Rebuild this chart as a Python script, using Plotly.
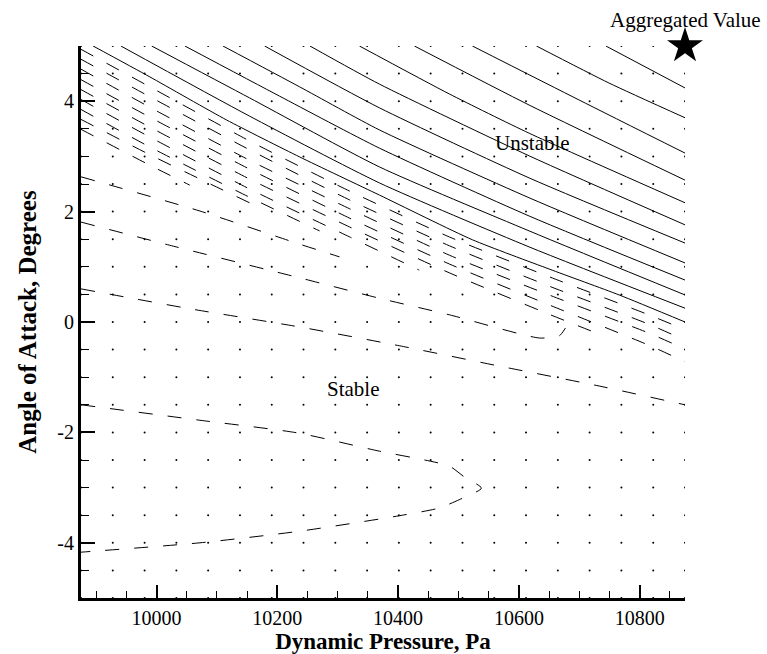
import plotly.graph_objects as go

FONT = "Liberation Serif, Times New Roman, serif"

# ---------------- data ----------------
# x tick labels / y tick labels
x_ticks = [10000, 10200, 10400, 10600, 10800]
x_tick_labels = ["10000", "10200", "10400", "10600", "10800"]
y_ticks = [-4, -2, 0, 2, 4]
y_tick_labels = ["-4", "-2", "0", "2", "4"]

# data grid (dots)
q_grid = [9875.0, 9927.6, 9980.3, 10032.9, 10085.5, 10138.2, 10190.8, 10243.4,
          10296.1, 10348.7, 10401.3, 10453.9, 10506.6, 10559.2, 10611.8, 10664.5,
          10717.1, 10769.7, 10822.4, 10875.0]
a_grid = [-5.0, -4.5, -4.0, -3.5, -3.0, -2.5, -2.0, -1.5, -1.0, -0.5, 0.0,
          0.5, 1.0, 1.5, 2.0, 2.5, 3.0, 3.5, 4.0, 4.5, 5.0]

# solid contour lines (positive levels): dynamic pressure / angle of attack
solid_q = [
    [9895, 9989, 10116, 10237, 10369, 10523, 10650, 10766, 10875],
    [9941, 10154, 10369, 10617, 10875],
    [9992, 10154, 10369, 10617, 10875],
    [10047, 10204, 10369, 10617, 10875],
    [10110, 10237, 10369, 10617, 10875],
    [10179, 10369, 10617, 10875],
    [10254, 10369, 10617, 10875],
    [10336, 10485, 10617, 10875],
    [10427, 10617, 10875],
    [10523, 10700, 10875],
    [10629, 10749, 10875],
    [10744, 10875],
]
solid_a = [
    [5.0, 4.44, 3.66, 2.99, 2.30, 1.49, 0.96, 0.49, 0.0],
    [5.0, 3.73, 2.52, 1.36, 0.25],
    [5.0, 4.06, 2.81, 1.65, 0.49],
    [5.0, 4.09, 3.15, 1.92, 0.76],
    [5.0, 4.26, 3.48, 2.25, 1.07],
    [5.0, 3.88, 2.61, 1.43],
    [5.0, 4.31, 3.01, 1.76],
    [5.0, 4.13, 3.42, 2.16],
    [5.0, 3.93, 2.57],
    [5.0, 4.02, 3.06],
    [5.0, 4.33, 3.70],
    [5.0, 4.24],
]

# dashed contour lines (negative levels) - dense transition band
band_q = [
    [9875, 9989, 10154, 10320, 10485, 10650, 10815, 10875],
    [9875, 9989, 10154, 10320, 10485, 10650, 10815, 10875],
    [9875, 9989, 10154, 10320, 10485, 10650, 10815, 10875],
    [9875, 9989, 10154, 10320, 10485, 10650, 10815, 10875],
    [9875, 9989, 10154, 10320, 10485, 10650, 10733],
    [9875, 9989, 10154, 10320, 10435],
    [9875, 9989, 10154, 10270],
    [9875, 9989, 10154],
    [9875, 9989, 10055],
]
band_a = [
    [4.94, 4.26, 3.28, 2.37, 1.54, 0.82, 0.13, -0.14],
    [4.76, 4.08, 3.12, 2.21, 1.38, 0.65, -0.04, -0.33],
    [4.58, 3.89, 2.93, 2.05, 1.21, 0.49, -0.20, -0.49],
    [4.39, 3.71, 2.77, 1.88, 1.05, 0.31, -0.42, -0.72],
    [4.21, 3.53, 2.59, 1.72, 0.89, 0.14, -0.22],
    [4.03, 3.35, 2.41, 1.54, 0.94],
    [3.85, 3.17, 2.26, 1.65],
    [3.67, 3.03, 2.16],
    [3.49, 2.84, 2.48],
]

# dashed contour lines - sparse, stable region
sparse_q = [
    [9875, 10072, 10237, 10303],
    [9875, 10022, 10237, 10369, 10485, 10634, 10667, 10677],
    [9875, 10055, 10237, 10402, 10568, 10733, 10875],
    [9875, 10072, 10234, 10369, 10444, 10485, 10510, 10538,
     10501, 10468, 10402, 10237, 10072, 9875],
]
sparse_a = [
    [2.63, 2.01, 1.41, 1.18],
    [1.81, 1.39, 0.80, 0.43, 0.13, -0.29, -0.25, -0.11],
    [0.60, 0.24, -0.09, -0.43, -0.80, -1.16, -1.50],
    [-1.50, -1.78, -2.01, -2.34, -2.50, -2.61, -2.81, -3.01,
     -3.22, -3.37, -3.51, -3.79, -4.00, -4.17],
]

star_q, star_a = 10875, 5.0
region_labels = ["Unstable", "Stable"]
region_q = [10622, 10326]
region_a = [3.24, -1.21]

# ---------------- figure ----------------
fig = go.Figure()

fig.add_trace(go.Scatter(
    x=[q for a in a_grid for q in q_grid],
    y=[a for a in a_grid for q in q_grid],
    mode="markers",
    marker=dict(size=2, color="black"),
    hoverinfo="skip",
))

for qs, as_ in zip(solid_q, solid_a):
    fig.add_trace(go.Scatter(x=qs, y=as_, mode="lines",
                             line=dict(color="black", width=1, shape="spline", smoothing=0.6)))

for qs, as_ in zip(band_q, band_a):
    fig.add_trace(go.Scatter(x=qs, y=as_, mode="lines",
                             line=dict(color="black", width=1, dash="14px,15px",
                                       shape="spline", smoothing=0.6)))

for qs, as_ in zip(sparse_q, sparse_a):
    fig.add_trace(go.Scatter(x=qs, y=as_, mode="lines",
                             line=dict(color="black", width=1, dash="14px,15px",
                                       shape="spline", smoothing=0.6)))

fig.add_trace(go.Scatter(
    x=[star_q], y=[star_a], mode="markers",
    marker=dict(symbol="star", size=27, color="black", line=dict(width=0)),
    cliponaxis=False,
))

for lbl, q, a in zip(region_labels, region_q, region_a):
    fig.add_annotation(x=q, y=a, text=lbl, showarrow=False,
                       font=dict(family=FONT, size=21, color="black"))

fig.add_annotation(x=star_q, y=star_a, text="Aggregated Value", showarrow=False,
                   yshift=26, font=dict(family=FONT, size=21, color="black"))

axis_common = dict(
    showline=True, linewidth=3, linecolor="black", mirror=False,
    ticks="inside", tickcolor="black", tickwidth=2,
    showgrid=False, zeroline=False, automargin=False,
    tickfont=dict(family=FONT, size=20, color="black"),
)

fig.update_layout(
    width=767, height=654,
    margin=dict(l=81, r=82, t=46, b=56),
    paper_bgcolor="white", plot_bgcolor="white",
    showlegend=False,
    font=dict(family=FONT, color="black"),
    xaxis=dict(
        range=[9875, 10875],
        tickmode="array", tickvals=x_ticks, ticktext=x_tick_labels,
        ticklen=13,
        minor=dict(tickmode="linear", tick0=10000, dtick=50, ticks="inside",
                   ticklen=7, tickwidth=1, tickcolor="black"),
        title=dict(text="Dynamic Pressure, Pa", standoff=9,
                   font=dict(family=FONT, size=23, color="black", weight="bold")),
        **axis_common,
    ),
    yaxis=dict(
        range=[-5, 5],
        tickmode="array", tickvals=y_ticks, ticktext=y_tick_labels,
        ticklen=14,
        minor=dict(tickmode="linear", tick0=0, dtick=0.5, ticks="inside",
                   ticklen=8, tickwidth=1, tickcolor="black"),
        title=dict(text="Angle of Attack, Degrees", standoff=14,
                   font=dict(family=FONT, size=25, color="black", weight="bold")),
        **axis_common,
    ),
)

fig.write_html("out.html")
